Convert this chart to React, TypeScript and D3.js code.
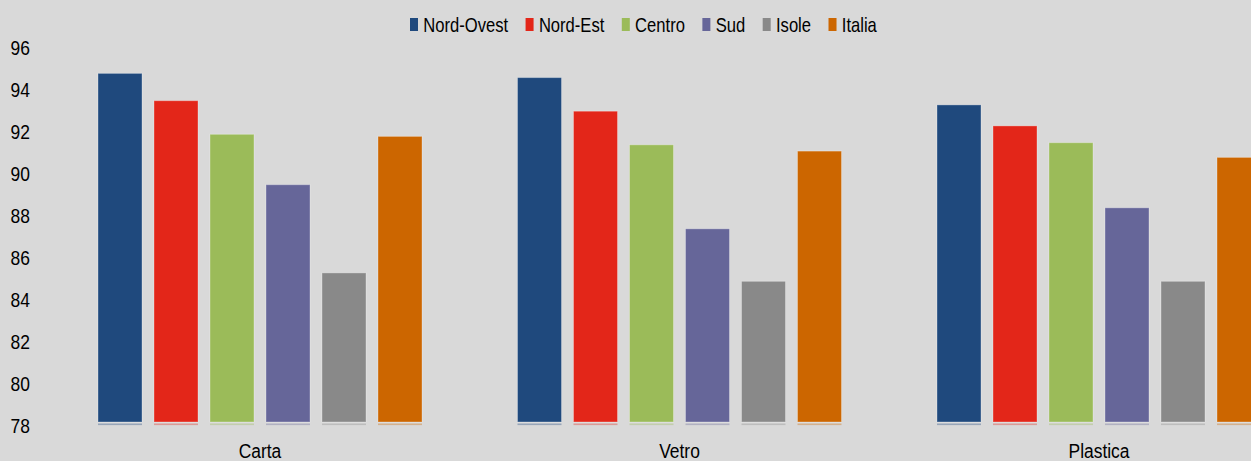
import React, { useEffect, useRef } from "react";
import * as d3 from "d3";

const categories = ["Carta", "Vetro", "Plastica"];
const series = ["Nord-Ovest", "Nord-Est", "Centro", "Sud", "Isole", "Italia"];
const colors = ["#1f497d", "#e32619", "#9bbb59", "#666699", "#898989", "#cc6600"];

// valori per categoria, nell'ordine delle serie
const carta = [94.6, 93.3, 91.7, 89.3, 85.1, 91.6];
const vetro = [94.4, 92.8, 91.2, 87.2, 84.7, 90.9];
const plastica = [93.1, 92.1, 91.3, 88.2, 84.7, 90.6];
const values = [carta, vetro, plastica];

const yTicks = [78, 80, 82, 84, 86, 88, 90, 92, 94, 96];

const FONT = "'Liberation Sans', Arial, sans-serif";
const SX = 0.83; // testo "narrow"

const App: React.FC = () => {
  const svgRef = useRef<SVGSVGElement>(null);

  useEffect(() => {
    const width = 1251;
    const height = 461;

    const svg = d3.select(svgRef.current).attr("width", width).attr("height", height);
    svg.selectAll("*").remove();

    svg.append("rect").attr("width", width).attr("height", height).attr("fill", "#d9d9d9");

    const y = d3.scaleLinear().domain([78, 96]).range([422, 44]);

    const x0 = d3.scaleBand<string>().domain(categories).range([50.25, 1308.75]).padding(0);
    const half = 168;
    const x1 = d3
      .scaleBand<string>()
      .domain(series)
      .range([x0.bandwidth() / 2 - half, x0.bandwidth() / 2 + half])
      .paddingInner(12 / 56)
      .paddingOuter(6 / 56);

    const groups = svg
      .selectAll(".group")
      .data(categories)
      .enter()
      .append("g")
      .attr("class", "group")
      .attr("transform", d => `translate(${x0(d)},0)`);

    groups.each(function (cat, ci) {
      const g = d3.select(this);
      const rows = series.map((s, si) => ({ s, v: values[ci][si], c: colors[si] }));

      g.selectAll(".bar")
        .data(rows)
        .enter()
        .append("rect")
        .attr("class", "bar")
        .attr("x", d => x1(d.s)!)
        .attr("y", d => y(d.v))
        .attr("width", x1.bandwidth())
        .attr("height", d => y(78) - y(d.v))
        .attr("fill", d => d.c)
        .attr("stroke", "rgba(255,255,255,0.3)")
        .attr("stroke-width", 1);

      // riflesso sotto le barre
      g.selectAll(".refl")
        .data(rows)
        .enter()
        .append("rect")
        .attr("class", "refl")
        .attr("x", d => x1(d.s)!)
        .attr("y", y(78) + 1.5)
        .attr("width", x1.bandwidth())
        .attr("height", 1.6)
        .attr("fill", d => d.c)
        .attr("opacity", 0.35);

      g.append("text")
        .attr("transform", `translate(${x0.bandwidth() / 2},458) scale(${SX},1)`)
        .attr("text-anchor", "middle")
        .style("font-family", FONT)
        .style("font-size", "21px")
        .attr("fill", "#000")
        .text(cat);
    });

    // asse y
    svg
      .append("g")
      .selectAll("text")
      .data(yTicks)
      .enter()
      .append("text")
      .attr("transform", d => `translate(30,${y(d) + 11.3}) scale(${SX},1)`)
      .attr("text-anchor", "end")
      .style("font-family", FONT)
      .style("font-size", "21px")
      .attr("fill", "#000")
      .text(d => d);

    // legenda
    const legend = svg.append("g").attr("transform", "translate(410,0)");
    let offset = 0;
    series.forEach((s, i) => {
      const item = legend.append("g").attr("transform", `translate(${offset},0)`);
      item.append("rect").attr("x", 0).attr("y", 18).attr("width", 8).attr("height", 13).attr("fill", colors[i]);
      const t = item
        .append("text")
        .attr("transform", `translate(13.3,31.5) scale(${SX},1)`)
        .style("font-family", FONT)
        .style("font-size", "20px")
        .attr("fill", "#000")
        .text(s);
      const w = (t.node() as SVGTextElement).getComputedTextLength() * SX;
      offset += 13.3 + w + 17.5;
    });
  }, []);

  return (
    <div>
      <svg ref={svgRef} style={{ position: "absolute", left: 0, top: 0, display: "block" }}></svg>
    </div>
  );
};

export default App;
